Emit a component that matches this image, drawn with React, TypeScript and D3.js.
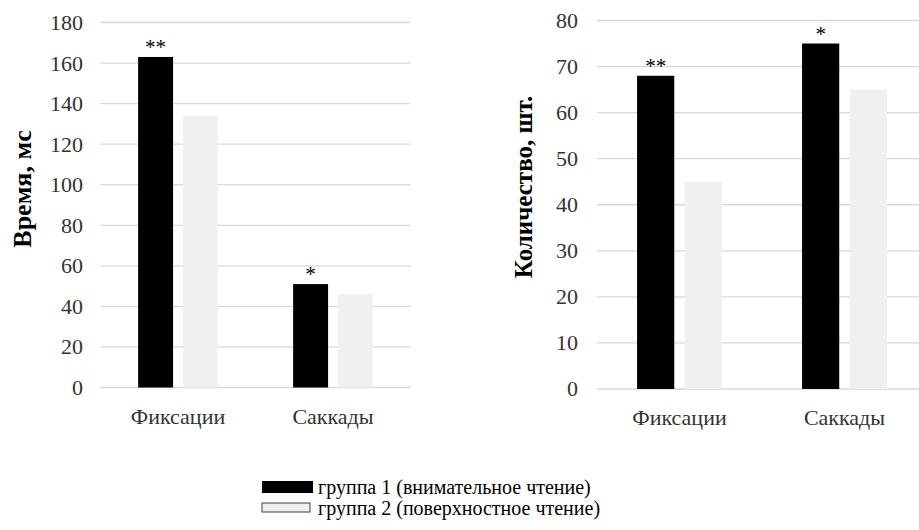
import React, { useRef, useEffect } from 'react';
import * as d3 from 'd3';

const categories = ['Фиксации', 'Саккады'];
const timeGroup1 = [163, 51];
const timeGroup2 = [134, 46];
const countGroup1 = [68, 75];
const countGroup2 = [45, 65];
const timeMarks = ['**', '*'];
const countMarks = ['**', '*'];
const legendLabels = ['группа 1 (внимательное чтение)', 'группа 2 (поверхностное чтение)'];
const groupColors = ['#000000', '#f0f0f0'];

const FONT = '"Times New Roman", "Liberation Serif", "DejaVu Serif", serif';

interface PanelOpts {
  x0: number; x1: number; yTop: number; yBottom: number;
  max: number; step: number;
  g1: number[]; g2: number[]; marks: string[];
  title: string; titleX: number; titleY: number; titleSize: number; labelX: number;
}

const App: React.FC = () => {
  const svgRef = useRef<SVGSVGElement>(null);

  useEffect(() => {
    if (!svgRef.current) return;
    const svg = d3.select(svgRef.current);
    svg.selectAll('*').remove();

    const drawPanel = (o: PanelOpts) => {
      const g = svg.append('g');
      const y = d3.scaleLinear().domain([0, o.max]).range([o.yBottom, o.yTop]);
      const x = d3.scaleBand().domain(categories).range([o.x0, o.x1]);
      const inner = d3.scaleBand().domain(['1', '2'])
        .range([0, x.bandwidth()]).paddingInner(0.22).paddingOuter(0.84);
      const ticks = d3.range(0, o.max + o.step / 2, o.step);

      // grid
      g.append('g').selectAll('line').data(ticks).enter().append('line')
        .attr('x1', o.x0).attr('x2', o.x1)
        .attr('y1', d => y(d)).attr('y2', d => y(d))
        .attr('stroke', '#d9d9d9').attr('stroke-width', 1.3);

      // tick labels
      g.append('g').selectAll('text').data(ticks).enter().append('text')
        .attr('x', o.labelX).attr('y', d => y(d))
        .attr('dy', '0.34em')
        .attr('text-anchor', 'end')
        .attr('font-family', FONT).attr('font-size', '22px').attr('fill', '#333')
        .text(d => d);

      const bars = g.append('g');
      [o.g1, o.g2].forEach((vals, gi) => {
        bars.selectAll(`.b${gi}`).data(vals).enter().append('rect')
          .attr('x', (d, i) => (x(categories[i]) || 0) + (inner(String(gi + 1)) || 0))
          .attr('y', d => y(d))
          .attr('width', inner.bandwidth())
          .attr('height', d => o.yBottom - y(d))
          .attr('fill', groupColors[gi]);
      });

      // significance marks
      g.append('g').selectAll('text').data(o.g1).enter().append('text')
        .attr('x', (d, i) => (x(categories[i]) || 0) + (inner('1') || 0) + inner.bandwidth() / 2)
        .attr('y', d => y(d) - 3)
        .attr('text-anchor', 'middle')
        .attr('font-family', FONT).attr('font-size', '21px').attr('fill', '#000')
        .text((d, i) => o.marks[i]);

      // category labels
      g.append('g').selectAll('text').data(categories).enter().append('text')
        .attr('x', d => (x(d) || 0) + x.bandwidth() / 2)
        .attr('y', o.yBottom + 36)
        .attr('text-anchor', 'middle')
        .attr('font-family', FONT).attr('font-size', '22px').attr('fill', '#333')
        .text(d => d);

      // axis title
      g.append('text')
        .attr('transform', `translate(${o.titleX},${o.titleY}) rotate(-90)`)
        .attr('text-anchor', 'middle')
        .attr('font-family', FONT).attr('font-size', `${o.titleSize}px`)
        .attr('font-weight', 'bold').attr('fill', '#000')
        .text(o.title);
    };

    drawPanel({ x0: 100.5, x1: 410.5, yTop: 22.5, yBottom: 387.5, max: 180, step: 20,
      g1: timeGroup1, g2: timeGroup2, marks: timeMarks,
      title: 'Время, мс', titleX: 31, titleY: 189, titleSize: 26, labelX: 83 });
    drawPanel({ x0: 597, x1: 927, yTop: 20.5, yBottom: 389, max: 80, step: 10,
      g1: countGroup1, g2: countGroup2, marks: countMarks,
      title: 'Количество, шт.', titleX: 532, titleY: 187, titleSize: 25, labelX: 578 });

    // legend
    const leg = svg.append('g');
    legendLabels.forEach((label, i) => {
      const ly = 481 + i * 21;
      leg.append('rect')
        .attr('x', 262).attr('y', i === 0 ? ly : ly + 1)
        .attr('width', i === 0 ? 51 : 48).attr('height', i === 0 ? 12 : 9)
        .attr('fill', groupColors[i])
        .attr('stroke', i === 0 ? 'none' : '#404040').attr('stroke-width', 1);
      leg.append('text')
        .attr('x', 318).attr('y', ly + 13)
        .attr('font-family', FONT).attr('font-size', '20px').attr('fill', '#000')
        .text(label);
    });
  }, []);

  return (
    <svg ref={svgRef} width={919} height={530}
      style={{ position: 'absolute', left: 0, top: 0, background: '#fff' }} />
  );
};

export default App;
